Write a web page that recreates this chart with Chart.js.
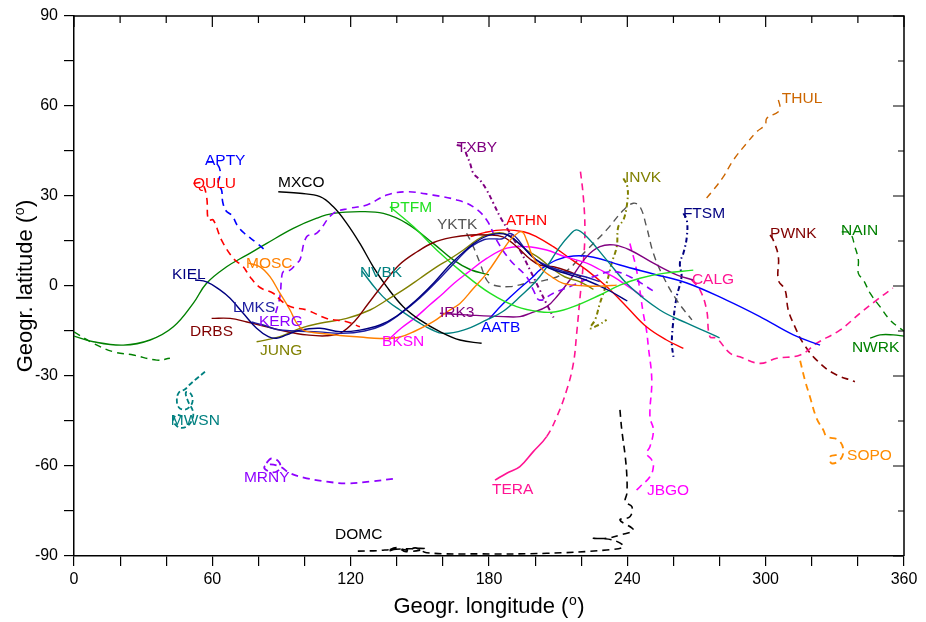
<!DOCTYPE html>
<html>
<head>
<meta charset="utf-8">
<title>Station trajectories</title>
<script src="https://cdn.jsdelivr.net/npm/chart.js@4.4.1/dist/chart.umd.min.js"></script>
<style>
  html, body { margin: 0; padding: 0; background: #fff; }
  #wrap { width: 926px; height: 622px; }
</style>
</head>
<body>
<div id="wrap"><canvas id="traj" width="926" height="622"></canvas></div>
<script>
// trajectories as [longitude, latitude] in degrees
const APTY = [[57.5,41.4],[61.5,41],[63.5,38],[62.5,34],[64,32],[64.5,28],[66,25],[68.5,23.5],[71,20],[74,17.5],[79,14.5],[83.5,11.5]];
const QULU = [[51.8,34.2],[55.4,34.2],[57.5,29.8],[58.3,22],[60.4,22],[64,15.3],[69.1,9.2],[73.4,6.4],[76.3,3.1],[80.7,-0.5],[86.4,-2.4],[90,-5],[94,-6.9],[101,-8],[109.6,-10.8],[118.3,-11.9],[124,-13.6]];
const MOSC = [[75.6,7.6],[80.7,6.4],[85,3.1],[89.3,-2.4],[93.7,-8],[96.6,-12.4],[99.5,-14.7],[103.7,-15.5],[109.6,-16],[115.4,-16.5],[124,-17],[132.7,-17.5],[141.4,-17],[148,-15],[155.8,-11.9],[162,-8.5],[167.4,-5.8],[173,-1],[179,4.2],[186,12],[190,16],[194.2,18.1],[196.3,15.3],[199,9.8],[203.4,5.3],[206.4,3.5],[212.2,0.9],[222.4,0],[229.6,0],[235.4,0.3]];
const KIEL = [[52.5,2],[57.5,1.4],[63.3,-1.3],[67.7,-4.1],[73.4,-9.1],[79.2,-14.1],[84.3,-16.9],[87.9,-17.4],[92.2,-16.3],[98,-14.7],[106.7,-14.1],[115.4,-15.2],[124,-14.7],[132.7,-13],[140,-10],[148,-5],[156,1],[163,7],[170,12],[176,15.5],[182,17.3],[188,17],[194,13.5],[200,9],[206,6],[214,4],[222,2],[232,-1.5],[240,-5]];
const LMKS = [[77,-12],[82,-13],[88,-14.5],[96,-15],[106,-15.3],[116,-15.8],[126,-15],[134,-13],[142,-9],[150,-4],[158,2],[166,8.5],[172,13],[178,15.5],[182,15.7],[186,15.8],[189,17.5],[192,16],[196,12],[200,9],[206,6.5],[214,4.5],[222,3],[228,1.5]];
const DRBS = [[59.7,-10.8],[67.7,-10.8],[75,-12],[83.6,-13.6],[92.2,-15.2],[100.9,-16.3],[109.6,-16.6],[116,-15.5],[122,-11.5],[127,-6.5],[134,0.5],[141,7],[149,11.5],[156,14.5],[164,16.2],[172,17],[179,17],[186,16.4],[192,13.1],[197.8,9],[202,7],[208,6.4],[214,5],[220,3]];
const JUNG = [[79.2,-18.6],[89.3,-16.9],[98,-14.1],[106.7,-12.4],[118.3,-10.8],[128.4,-8],[135,-5],[142.8,-1.3],[150,2.5],[157.3,6.4],[163,9],[168.9,12],[174.7,15.3],[179,17],[186.2,17.6],[192,14.8],[196.3,12],[202,9.2],[207.9,5.5],[213,3],[219.5,1.4],[225.3,-1.1]];
const KERG = [[87.5,-9],[89.3,-3.6],[90.1,3.1],[90.8,4.8],[93.7,5.3],[96.6,7.6],[98,8.7],[100.9,16.4],[105.3,17.6],[112.5,24.2],[119.7,25.9],[127,27],[135.6,30.3],[144.3,31.4],[155.8,30.3],[166,28.7],[173.2,26.4],[179,22],[183.3,15.3],[189.1,8.7],[196.3,3.1],[199.2,-1.3],[202,-4.7],[207.9,-2.4],[216.6,0.3],[225.3,3.1],[234,4.8],[241.1,3.1],[248.3,-0.2],[252.7,-2.4]];
const MXCO = [[88.6,31.4],[98,30.9],[106.7,29.8],[112.5,26.4],[118.3,20.9],[124,14.2],[129.8,6.4],[135.6,-0.2],[142.8,-6.9],[150,-11.3],[158.7,-15.2],[167.4,-18],[176.8,-19.1]];
const PTFM = [[137,26.4],[147.2,19.8],[157.3,12],[168.9,4.2],[180.4,-2.4],[192,-6.9],[202,-8.6],[209,-8.6],[216.6,-6.9],[228.1,-3],[236.8,0.3],[245.5,2.6],[255.6,4.2],[268.6,5.3]];
const NVBK = [[124.9,5],[131.3,-1.3],[136,-5],[141.4,-8],[150,-12.4],[155,-14.5],[160.2,-15.8],[168.9,-14.7],[179,-11.3],[186,-8.5],[193.4,-3.6],[202,3.1],[210.8,13.1],[215,17],[218,18.7],[222.4,16.4],[231,8.7],[241.1,-0.2],[254.1,-8],[265.8,-12.4],[275.8,-15.8],[280,-17.3]];
const BKSN = [[137,-17.4],[142,-14],[148.6,-10.2],[154,-6.5],[160.2,-2.4],[165,1],[170.3,4.2],[179,9.2],[187.7,12.6],[196.3,13.1],[205,12],[212,10],[222.4,7.6],[228,5.5],[233.9,3.1],[240,0],[247,-3.6]];
const IRK3 = [[158.7,-9.1],[171.8,-9.7],[186.2,-10.2],[193.4,-10.2],[197.8,-9.1],[205,-6.9],[210,-3],[215.1,2],[222.4,9.8],[228.1,13.1],[234,13.7],[241.1,12],[251.3,7.6],[261.4,3.7],[268.6,2]];
const AATB = [[180,-11],[186,-6],[193,-1],[199,3],[202,5.3],[209.4,8.7],[216.6,10],[225.3,9.6],[236.8,7],[251.3,4],[265.8,1],[283,-4.7],[297.5,-10.2],[312,-16.3],[323.6,-19.7]];
const ATHN = [[172,16.5],[178,17.8],[186.2,18.7],[195,18.1],[200.7,16.4],[207.9,13.1],[215.1,9.2],[222.4,5.3],[231,-0.2],[239.7,-6.9],[248.3,-13.6],[257,-18],[264.3,-20.8]];
const YKTK = [[170.3,17.6],[173.2,13.1],[176.1,7.6],[179,2],[181.9,0.3],[189.1,-0.2],[196.3,0.9],[202,1.5],[212.2,4.2],[222.4,12],[231,18.7],[238.3,25.3],[242.6,27.6],[245.5,26.4],[248.3,19.8],[251.3,10.9],[255.6,3.1],[261.4,-4.7],[268,-11.3]];
const TXBY = [[166,47],[168.9,46.4],[170.3,43.7],[171.8,40.9],[173.2,37.6],[176.1,35.3],[179,32],[181.9,27.6],[184.8,23.1],[189.1,17.6],[193.4,12],[197.8,5.3],[202,-1.3],[205,-6],[208,-10.5]];
const INVK = [[238.3,35.9],[240,33.1],[240,28.1],[238.3,22],[236.1,19.8],[235.4,13.1],[233.2,7.6],[231,0.9],[228.1,-5.8],[226,-11.3],[223.8,-14.1],[227.4,-13],[231,-11.3]];
const FTSM = [[264.3,24.2],[265.8,22],[265.8,16.4],[264.3,10.9],[262.8,7.6],[263.5,3.1],[261.4,-3.6],[260,-11.3],[259.3,-19.1],[260,-23.6]];
const CALG = [[267.9,2],[271.5,-1.3],[274.4,-8],[275.8,-16.9],[278.7,-17.4],[284.5,-22.4],[288.8,-23.6],[297.5,-25.8],[304.8,-24.1],[315,-23],[322.1,-19.1],[332.2,-14.7],[340.9,-9.1],[348.1,-4.7],[355.2,-0.7]];
const THUL = [[305.5,62],[306.2,59.8],[305.5,58.1],[300.5,55.9],[299.8,53.7],[296.1,51.4],[291.8,47.6],[286,42],[281.6,36.4],[277.3,32],[273.7,28.7]];
const PWNK = [[301.9,17],[303.3,15.3],[305.5,9.8],[305.5,2],[308.4,-1.3],[309.8,-8],[312.7,-13.6],[316.3,-19.1],[322.1,-24.7],[329.4,-29.1],[338.7,-31.9]];
const NAIN = [[333,18.1],[336.6,17.6],[338.7,13.1],[340.2,8.7],[340.2,4.2],[342.4,2],[345.3,-2.4],[349.6,-6.9],[353.9,-11.3],[358.3,-14.1],[360,-15]];
const NAIN_wrap = [[0,-15.3],[8.4,-19.1],[17,-21.9],[25.7,-23],[35.9,-24.7],[41.6,-24.1]];
const NWRK = [[345.3,-17.4],[349.6,-16.3],[355.4,-16.3],[360,-16.7]];
const NWRK_wrap = [[0,-16.7],[8.4,-18.6],[21.4,-19.7],[33,-18],[43.1,-13.6],[51.7,-5.8],[57.5,0.9],[66.2,6.4],[74.9,10.3],[83.6,14.2],[95.1,19.2],[105.3,22.6],[112.5,24.2],[124,24.8],[134.2,24.2],[144.3,20.9],[155.8,14.2],[164.5,8.7],[171.8,5.5],[180,3.7]];
const SOPO = [[330.8,-56.3],[327.9,-56.9],[328.6,-59.1],[332.2,-58],[333.7,-54.7],[331.5,-51.3],[326.5,-50.2],[325,-48],[322.1,-44.1],[319.2,-36.9],[317,-31.3],[314.9,-24.7]];
const JBGO = [[244,-68],[245.5,-66.9],[249.8,-63.6],[251.3,-60.2],[250.6,-58],[248.3,-55.8],[249.8,-53.6],[251.3,-48],[249.8,-43.6],[250.6,-31.3],[249.1,-20.2],[248.3,-14.7],[246.9,-9.1],[244,5.3],[241.1,14.2]];
const TERA = [[182.6,-64.7],[187.7,-62.4],[193.4,-60.2],[199.2,-55.2],[205,-50.2],[209.4,-43.6],[213.7,-34.7],[216.6,-25.8],[218,-16],[219.5,-3.6],[220.9,7.6],[221.6,18.7],[220.9,29.8],[219.5,39.2]];
const DOMC = [[236.8,-41.3],[237.6,-48],[239.1,-56.9],[239.8,-63.6],[239.8,-69.1],[239.1,-71.9],[242,-73.6],[241.1,-76.9],[236.8,-78],[242.6,-81.3],[236.8,-83],[231,-84.1],[225.3,-84.1],[233.9,-84.7],[238.3,-86.9],[231,-88],[205,-89.1],[176.1,-89.3],[153,-88.9],[148,-87.3],[144,-88.6],[140,-87.2],[136,-88.4],[141,-87.6],[147,-88.4],[152,-87.5],[138.5,-87.8],[131.3,-88.2],[122.6,-88.4]];
const MRNY = [[83.5,-59],[85.5,-57.5],[88.5,-58.3],[89.5,-60.5],[87.5,-62],[84.5,-61.8],[82.5,-60.5],[84.5,-59.5],[89.3,-60.2],[93.7,-62.4],[100.9,-64.1],[109.6,-65.2],[118.3,-65.8],[128.4,-65.2],[140,-64.1]];
const MWSN = [[56.8,-28.6],[53,-31],[50,-33],[48,-34.5],[45.5,-35.5],[44.6,-38],[45.5,-40.5],[48,-41.2],[50.5,-40],[51.5,-38],[50.5,-35.8],[48.5,-35.5],[49.5,-38.5],[51.5,-41.5],[51.5,-44],[49.5,-46.5],[46.5,-47.3],[44,-46.2],[43.2,-44.5],[44.5,-43],[47,-43.5]];

const xTicks = [0, 60, 120, 180, 240, 300, 360];
const yTicks = [-90, -60, -30, 0, 30, 60, 90];

// line look per station
const DASH = [7, 5];
const DASHDOT = [5, 3, 1.5, 3];
const look = {
  APTY: { color: '#0000ff', dash: DASH, width: 1.6 },
  QULU: { color: '#ff0000', dash: DASH, width: 1.6 },
  MOSC: { color: '#ff8000' },
  KIEL: { color: '#000080' },
  LMKS: { color: '#1c1ca0' },
  DRBS: { color: '#800000' },
  JUNG: { color: '#808000' },
  KERG: { color: '#8f00ff', dash: DASH, width: 1.6 },
  MXCO: { color: '#000000' },
  PTFM: { color: '#22e022' },
  NVBK: { color: '#008080' },
  BKSN: { color: '#ff00ff' },
  IRK3: { color: '#800080' },
  AATB: { color: '#0000ff' },
  ATHN: { color: '#ff0000' },
  YKTK: { color: '#555555', dash: DASH },
  TXBY: { color: '#800080', dash: DASHDOT, width: 2 },
  INVK: { color: '#808000', dash: DASHDOT, width: 2 },
  FTSM: { color: '#000080', dash: DASHDOT, width: 2 },
  CALG: { color: '#ff1493', dash: DASH, width: 1.6 },
  THUL: { color: '#cc6600', dash: DASH },
  PWNK: { color: '#800000', dash: DASH, width: 1.6 },
  NAIN: { color: '#008000', dash: DASH, width: 1.4 },
  NWRK: { color: '#008000' },
  SOPO: { color: '#ff8c00', dash: DASH, width: 1.8 },
  JBGO: { color: '#ff00ff', dash: DASH, width: 1.6 },
  TERA: { color: '#ff1493', dash: DASH, width: 1.6, solidFirst: 4 },
  DOMC: { color: '#000000', dash: DASH, width: 1.6 },
  MRNY: { color: '#8f00ff', dash: DASH, width: 1.8 },
  MWSN: { color: '#008080', dash: [5, 3], width: 1.8 }
};

const traces = [
  ['APTY', APTY], ['QULU', QULU], ['MOSC', MOSC], ['KIEL', KIEL], ['LMKS', LMKS],
  ['DRBS', DRBS], ['JUNG', JUNG], ['KERG', KERG], ['MXCO', MXCO], ['PTFM', PTFM],
  ['NVBK', NVBK], ['BKSN', BKSN], ['IRK3', IRK3], ['AATB', AATB], ['ATHN', ATHN],
  ['YKTK', YKTK], ['TXBY', TXBY], ['INVK', INVK], ['FTSM', FTSM], ['CALG', CALG],
  ['THUL', THUL], ['PWNK', PWNK], ['NAIN', NAIN], ['NAIN', NAIN_wrap], ['NWRK', NWRK],
  ['NWRK', NWRK_wrap], ['SOPO', SOPO], ['JBGO', JBGO], ['TERA', TERA], ['DOMC', DOMC],
  ['MRNY', MRNY], ['MWSN', MWSN]
];

// where each station name is written (lon, lat of the text's left end)
const nameAt = {
  APTY: [56.8, 41.7], QULU: [51.6, 34], MXCO: [88.5, 34.3], KIEL: [42.5, 3.7],
  MOSC: [74.6, 7.3], LMKS: [69, -7.3], KERG: [80.2, -12], DRBS: [50.3, -15.3],
  JUNG: [80.7, -21.7], PTFM: [137, 26], NVBK: [124, 4.3], YKTK: [157.4, 20.3],
  TXBY: [166, 46], ATHN: [187.4, 21.7], IRK3: [158.7, -9], AATB: [176.5, -14],
  BKSN: [133.6, -18.7], INVK: [239, 36], FTSM: [264.1, 24], CALG: [268, 2],
  THUL: [307, 62.3], PWNK: [301.9, 17.3], NAIN: [332.7, 18.3], NWRK: [337.4, -20.7],
  SOPO: [335.3, -56.7], JBGO: [248.5, -68.3], TERA: [181.3, -68], DOMC: [113.2, -83],
  MRNY: [73.7, -64], MWSN: [42, -45]
};

const FONT = "'Liberation Sans', Arial, Helvetica, sans-serif";

const datasets = traces.map(([name, pts]) => {
  const s = look[name];
  const dash = s.dash || [];
  return {
    label: name,
    data: pts.map(p => ({ x: p[0], y: p[1] })),
    showLine: true,
    borderColor: s.color,
    backgroundColor: s.color,
    borderWidth: s.width || 1.4,
    borderDash: dash,
    pointRadius: 0,
    tension: 0.4,
    segment: s.solidFirst ? {
      borderDash: c => (c.p0DataIndex < s.solidFirst ? [] : dash)
    } : undefined
  };
});

// top/right frame with inward ticks, axis titles and station names
const decor = {
  id: 'decor',
  afterDatasetsDraw(chart) {
    const { ctx, scales: { x, y } } = chart;
    ctx.save();
    ctx.font = '15.5px ' + FONT;
    ctx.textBaseline = 'middle';
    ctx.textAlign = 'left';
    Object.keys(nameAt).forEach(n => {
      const [lon, lat] = nameAt[n];
      ctx.fillStyle = look[n].color;
      ctx.fillText(n, x.getPixelForValue(lon), y.getPixelForValue(lat));
    });
    ctx.restore();
  },
  afterDraw(chart) {
    const { ctx, chartArea: a, scales: { x, y } } = chart;
    ctx.save();
    ctx.strokeStyle = '#000';
    ctx.lineWidth = 1.5;
    ctx.beginPath();
    ctx.moveTo(a.left, a.top);
    ctx.lineTo(a.right, a.top);
    ctx.lineTo(a.right, a.bottom);
    ctx.stroke();

    ctx.lineWidth = 1.2;
    ctx.beginPath();
    x.ticks.forEach(t => {
      const px = x.getPixelForValue(t.value);
      const len = xTicks.includes(t.value) ? 11 : 7;
      ctx.moveTo(px, a.top);
      ctx.lineTo(px, a.top + len);
    });
    y.ticks.forEach(t => {
      const py = y.getPixelForValue(t.value);
      const len = yTicks.includes(t.value) ? 11 : 6;
      ctx.moveTo(a.right, py);
      ctx.lineTo(a.right - len, py);
    });
    ctx.stroke();

    // axis titles with a raised "o" for degrees
    const title = (main, cx, cy, rot) => {
      ctx.save();
      ctx.translate(cx, cy);
      ctx.rotate(rot);
      ctx.fillStyle = '#000';
      ctx.textBaseline = 'alphabetic';
      ctx.textAlign = 'left';
      ctx.font = '22px ' + FONT;
      const w1 = ctx.measureText(main + ' (').width;
      const w3 = ctx.measureText(')').width;
      ctx.font = '14px ' + FONT;
      const w2 = ctx.measureText('o').width + 1;
      let x0 = -(w1 + w2 + w3) / 2;
      ctx.font = '22px ' + FONT;
      ctx.fillText(main + ' (', x0, 0);
      ctx.font = '14px ' + FONT;
      ctx.fillText('o', x0 + w1 + 0.5, -8);
      ctx.font = '22px ' + FONT;
      ctx.fillText(')', x0 + w1 + w2, 0);
      ctx.restore();
    };
    title('Geogr. longitude', (a.left + a.right) / 2, 613, 0);
    title('Geogr. latitude', 32, (a.top + a.bottom) / 2, -Math.PI / 2);
    ctx.restore();
  }
};

const axisCommon = {
  type: 'linear',
  grid: { drawOnChartArea: false, drawTicks: true, tickLength: 10, color: '#000', lineWidth: 1.2 },
  border: { display: true, color: '#000', width: 1.5 },
  title: { display: false }
};

new Chart(document.getElementById('traj').getContext('2d'), {
  type: 'scatter',
  data: { datasets: datasets },
  options: {
    responsive: false,
    animation: false,
    devicePixelRatio: 1,
    layout: { padding: { top: 16, right: 22, left: 0, bottom: 0 } },
    plugins: { legend: { display: false }, tooltip: { enabled: false } },
    scales: {
      x: Object.assign({}, axisCommon, {
        min: 0, max: 360,
        ticks: {
          stepSize: 20, autoSkip: false, maxRotation: 0, padding: 4,
          color: '#000', font: { family: FONT, size: 16 },
          callback: v => (xTicks.includes(v) ? String(v) : '')
        },
        afterFit: s => { s.height = 66; }
      }),
      y: Object.assign({}, axisCommon, {
        min: -90, max: 90,
        ticks: {
          stepSize: 15, autoSkip: false, padding: 6,
          color: '#000', font: { family: FONT, size: 16 },
          callback: v => (yTicks.includes(v) ? String(v) : '')
        },
        afterFit: s => { s.width = 74; }
      })
    }
  },
  plugins: [decor]
});
</script>
</body>
</html>
